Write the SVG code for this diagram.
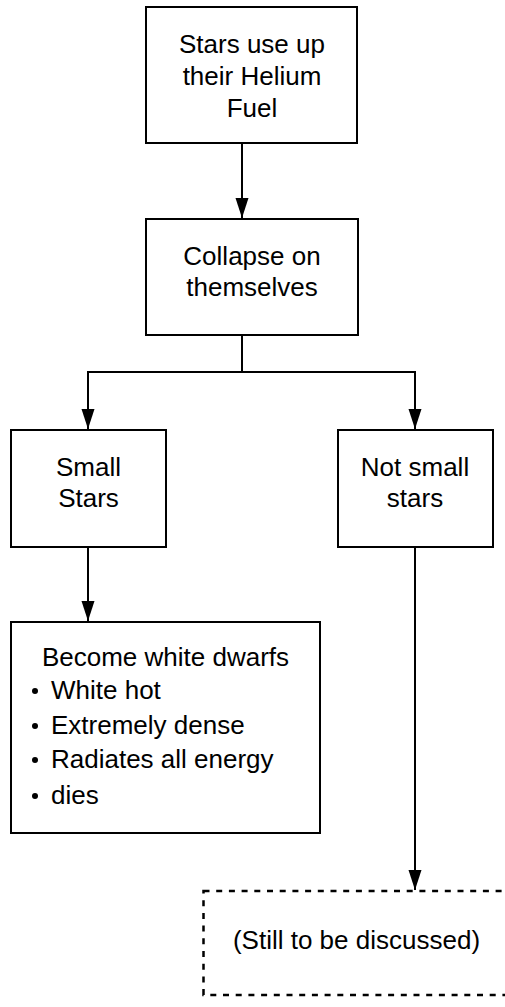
<svg xmlns="http://www.w3.org/2000/svg" width="505" height="1007" viewBox="0 0 505 1007">
  <style>
    .box { fill: #fff; stroke: #000; stroke-width: 2; }
    .dashed { fill: #fff; stroke: #000; stroke-width: 2.5; stroke-dasharray: 6 6.7; }
    .lbl { font-family: "Liberation Sans", Arial, sans-serif; font-size: 26px; fill: #000; text-anchor: middle; }
    .item { font-family: "Liberation Sans", Arial, sans-serif; font-size: 26px; fill: #000; }
    .wire { fill: none; stroke: #000; stroke-width: 2; }
  </style>
  <defs>
    <marker id="arrow" markerUnits="userSpaceOnUse" markerWidth="21" markerHeight="14" refX="20" refY="6.5" orient="auto">
      <path d="M0,0 L20,6.5 L0,13 Z" fill="#000"/>
    </marker>
  </defs>

  <g id="connectors">
    <path class="wire" d="M242,143 V218" marker-end="url(#arrow)"/>
    <path class="wire" d="M242,335 V372 H88 V429" marker-end="url(#arrow)"/>
    <path class="wire" d="M242,372 H415 V429" marker-end="url(#arrow)"/>
    <path class="wire" d="M88,547 V621" marker-end="url(#arrow)"/>
    <path class="wire" d="M415,547 V890" marker-end="url(#arrow)"/>
  </g>

  <g id="helium">
    <rect class="box" x="146" y="7" width="211" height="136"/>
    <text class="lbl" x="252" y="53">Stars use up</text>
    <text class="lbl" x="252" y="85">their Helium</text>
    <text class="lbl" x="252" y="117">Fuel</text>
  </g>

  <g id="collapse">
    <rect class="box" x="146" y="219" width="212" height="116"/>
    <text class="lbl" x="252" y="265">Collapse on</text>
    <text class="lbl" x="252" y="296">themselves</text>
  </g>

  <g id="small">
    <rect class="box" x="11" y="430" width="155" height="117"/>
    <text class="lbl" x="88.5" y="476">Small</text>
    <text class="lbl" x="88.5" y="507">Stars</text>
  </g>

  <g id="notsmall">
    <rect class="box" x="338" y="430" width="155" height="117"/>
    <text class="lbl" x="415" y="476">Not small</text>
    <text class="lbl" x="415" y="507">stars</text>
  </g>

  <g id="whitedwarfs">
    <rect class="box" x="11" y="622" width="309" height="211"/>
    <text class="lbl" x="165.5" y="666">Become white dwarfs</text>
    <circle cx="35" cy="691" r="3"/>
    <text class="item" x="51" y="699">White hot</text>
    <circle cx="35" cy="726" r="3"/>
    <text class="item" x="51" y="734">Extremely dense</text>
    <circle cx="35" cy="760" r="3"/>
    <text class="item" x="51" y="768">Radiates all energy</text>
    <circle cx="35" cy="796" r="3"/>
    <text class="item" x="51" y="804">dies</text>
  </g>

  <g id="undiscussed">
    <rect class="dashed" x="203.5" y="891" width="310" height="104"/>
    <text class="lbl" x="356.5" y="949">(Still to be discussed)</text>
  </g>
</svg>
